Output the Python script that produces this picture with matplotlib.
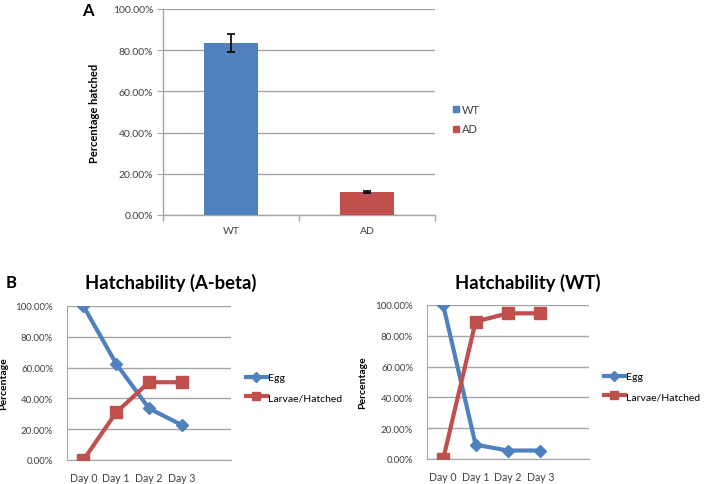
import matplotlib
matplotlib.use("Agg")
import matplotlib.pyplot as plt
from matplotlib.ticker import FuncFormatter

plt.rcParams["font.family"] = ["Lato", "DejaVu Sans"]

# Panel A data
groups = ["WT", "AD"]
hatched = [83.6, 11.0]
hatched_err = [4.3, 0.5]

# Panel B data
days = ["Day 0", "Day 1", "Day 2", "Day 3"]
egg_abeta = [100.0, 62.5, 33.5, 22.7]
larvae_abeta = [0.0, 30.9, 50.5, 50.5]
egg_wt = [100.0, 9.3, 5.5, 5.5]
larvae_wt = [0.0, 89.2, 94.6, 94.6]

blue = "#4F81BD"
red = "#C0504D"
grid_c = "#A6A6A6"
txt_c = "#404040"

W, H = 708, 485
fig = plt.figure(figsize=(W / 100, H / 100), dpi=100)


def px_axes(x0, y0, x1, y1):
    return fig.add_axes([x0 / W, 1 - y1 / H, (x1 - x0) / W, (y1 - y0) / H])


pct = FuncFormatter(lambda v, p: f"{v:.2f}%")

# ---- Panel A ----
ax = px_axes(163, 10, 435, 216)
xs = range(len(groups))
ax.bar(xs, hatched, width=0.39, color=[blue, red], zorder=3)
ax.errorbar(xs, hatched, yerr=hatched_err, fmt="none", ecolor="black",
            elinewidth=1.2, capsize=3, capthick=1.2, zorder=4)
ax.set_xlim(-0.5, 1.5)
ax.set_ylim(0, 100)
ax.set_yticks(range(0, 101, 20))
ax.yaxis.set_major_formatter(pct)
ax.set_xticks(list(xs))
ax.set_xticklabels(groups)
ax.set_xticks([-0.5, 0.5, 1.5], minor=True)
ax.tick_params(axis="x", which="major", length=0, pad=8, labelsize=7.5, colors=txt_c)
ax.tick_params(axis="x", which="minor", length=4, color=grid_c, width=1)
ax.tick_params(axis="y", length=4, color=grid_c, labelsize=7.5, colors=txt_c, pad=3)
ax.grid(axis="y", color=grid_c, lw=1, zorder=0)
for s in ["top", "right"]:
    ax.spines[s].set_visible(False)
for s in ["left", "bottom"]:
    ax.spines[s].set_color(grid_c)
    ax.spines[s].set_linewidth(1)
ax.set_ylabel("Percentage hatched", fontsize=8, fontweight="bold", color="black", labelpad=9)
fig.text(88 / W, 1 - 11 / H, "A", fontsize=12, fontweight="bold", ha="center", va="center")
# legend A
for i, (g, c) in enumerate(zip(groups, [blue, red])):
    y = 110 + i * 20
    fig.patches.append(plt.Rectangle((453 / W, 1 - (y + 3) / H), 6 / W, 6 / H,
                                     transform=fig.transFigure, color=c))
    fig.text(462 / W, 1 - y / H, g, fontsize=8, va="center", color=txt_c)


# ---- Panel B ----
def line_panel(box, egg, larvae, title, title_x, leg_x, ylab_x):
    a = px_axes(*box)
    xi = list(range(len(days)))
    a.plot(xi, egg, color=blue, lw=3, marker="D", ms=6, zorder=3, label="Egg")
    a.plot(xi, larvae, color=red, lw=3, marker="s", ms=8, zorder=3, label="Larvae/Hatched")
    a.set_xlim(-0.5, 4.5)
    a.set_ylim(0, 100)
    a.set_yticks(range(0, 101, 20))
    a.yaxis.set_major_formatter(pct)
    a.set_xticks(xi)
    a.set_xticklabels(days)
    a.tick_params(axis="x", length=0, labelsize=7.6, colors=txt_c, pad=9)
    a.tick_params(axis="y", length=0, labelsize=7, colors=txt_c, pad=10)
    a.grid(axis="y", color=grid_c, lw=1, zorder=0)
    for s in ["top", "right"]:
        a.spines[s].set_visible(False)
    for s in ["left", "bottom"]:
        a.spines[s].set_color(grid_c)
    a.set_ylabel("Percentage", fontsize=7.5, fontweight="bold", color="black")
    w = box[2] - box[0]
    a.yaxis.set_label_coords((ylab_x - box[0]) / w, 0.5)
    fig.text(title_x / W, 1 - 283 / H, title, fontsize=13.3, fontweight="bold",
             ha="center", va="center")
    a.legend(loc="center left", bbox_to_anchor=((leg_x - box[0]) / w, 0.47),
             frameon=False, fontsize=7.5, handlelength=2.0, handletextpad=0.1,
             labelspacing=1.0, borderaxespad=0, borderpad=0, markerscale=0.8)
    return a


line_panel((67, 307, 231, 461), egg_abeta, larvae_abeta, "Hatchability (A-beta)", 171, 246, 8)
line_panel((427, 306, 589, 460), egg_wt, larvae_wt, "Hatchability (WT)", 528, 604, 367)
fig.text(11 / W, 1 - 283 / H, "B", fontsize=12, fontweight="bold", ha="center", va="center")

fig.savefig("out.png", dpi=100)
